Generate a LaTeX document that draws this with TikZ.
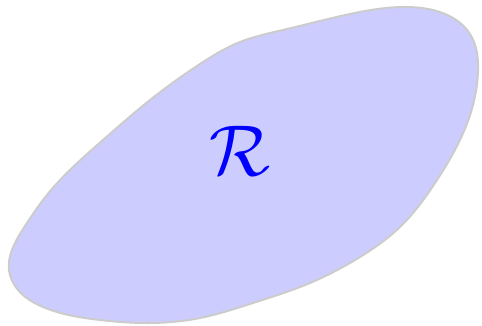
\documentclass[tikz,border=0pt]{standalone}
\usetikzlibrary{hobby}
\begin{document}
\begin{tikzpicture}[x=1pt,y=1pt,
  region/.style={fill=blue!20,draw=gray!40,line width=2pt},
  lbl/.style={text=blue,scale=7.2,inner sep=0pt}]
\useasboundingbox (0,0) rectangle (482,326);
\draw[region] plot[closed hobby] coordinates {
  (240,284) (283,296) (350,312) (407,319) (445,312) (470,292) (478,255)
  (468,205) (437,146) (400,99) (360,69) (310,43) (253,23) (200,8) (150,3)
  (100,6) (43,19) (18,36) (9,56) (15,83) (27,103) (43,126) (73,159)
  (103,186) (150,226) (200,262)};
\node[lbl] (r) at (240,175) {$\mathcal{R}$};
\end{tikzpicture}
\end{document}
